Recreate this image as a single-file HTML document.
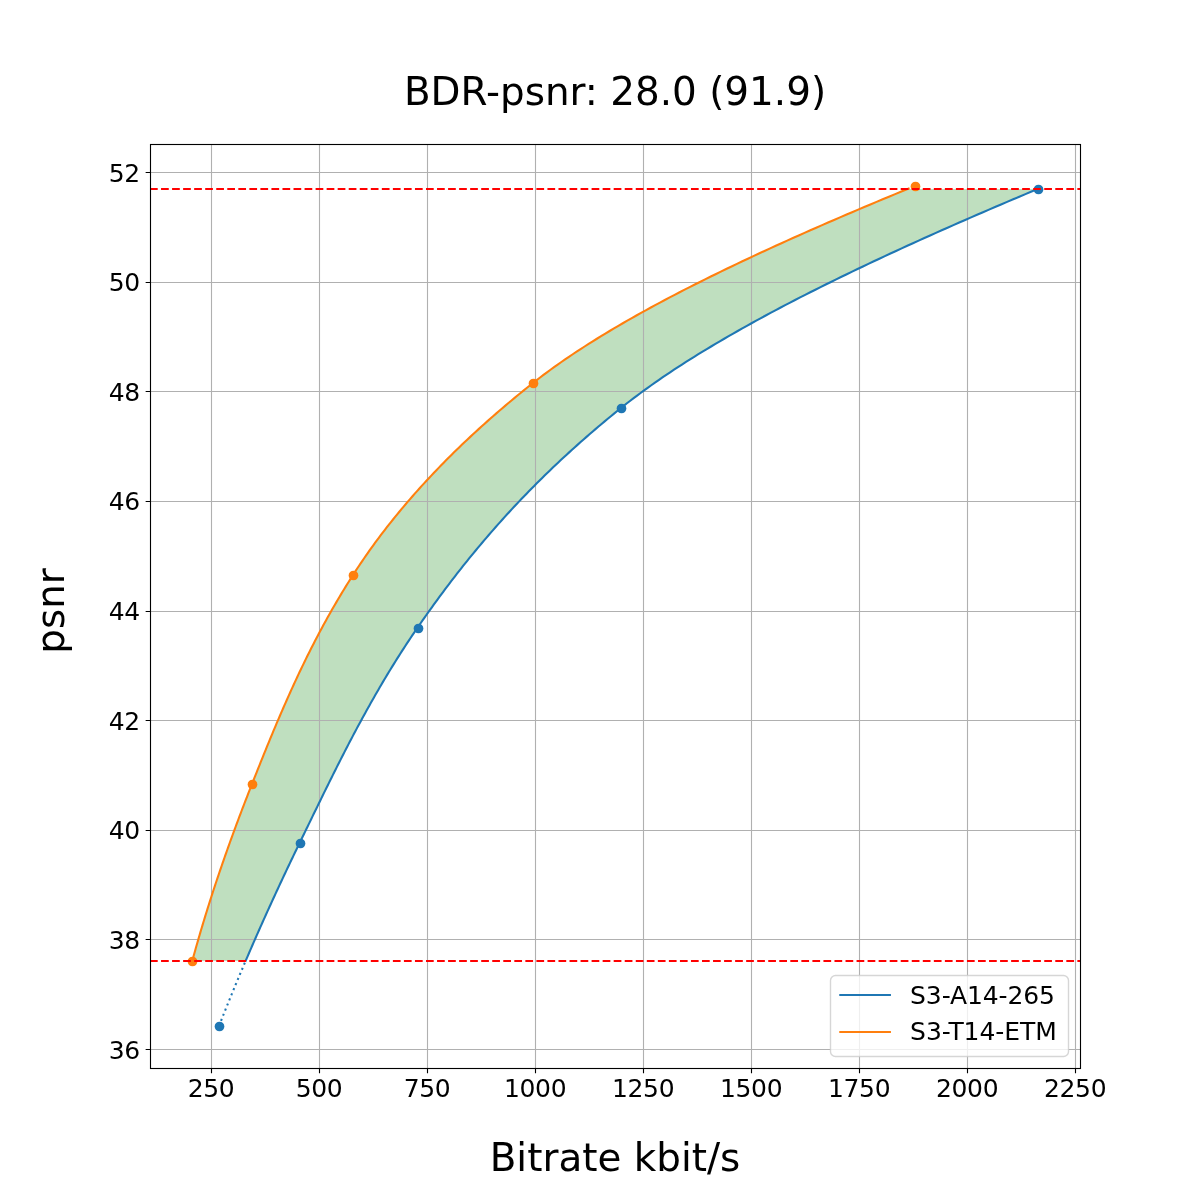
<!DOCTYPE html>
<html lang="en"><head><meta charset="utf-8"><title>BDR-psnr</title>
<style>html,body{margin:0;padding:0;background:#fff}body{width:1200px;height:1200px;overflow:hidden}svg{display:block}</style>
</head><body>
<svg width="1200" height="1200" viewBox="0 0 1200 1200">
<rect width="1200" height="1200" fill="#ffffff"/>
<defs><clipPath id="ax"><rect x="150" y="144" width="930" height="924"/></clipPath></defs>
<g clip-path="url(#ax)">
<path d="M192.27,961.00 L192.97,958.42 L193.68,955.84 L194.39,953.25 L195.11,950.67 L195.83,948.09 L196.56,945.51 L197.30,942.93 L198.04,940.34 L198.79,937.76 L199.54,935.18 L200.29,932.60 L201.06,930.02 L201.82,927.43 L202.60,924.85 L203.38,922.27 L204.16,919.69 L204.95,917.11 L205.74,914.53 L206.54,911.94 L207.35,909.36 L208.15,906.78 L208.97,904.20 L209.79,901.62 L210.61,899.03 L211.44,896.45 L212.28,893.87 L213.12,891.29 L213.96,888.71 L214.81,886.12 L215.67,883.54 L216.52,880.96 L217.39,878.38 L218.26,875.80 L219.13,873.21 L220.01,870.63 L220.89,868.05 L221.78,865.47 L222.67,862.89 L223.57,860.30 L224.47,857.72 L225.37,855.14 L226.28,852.56 L227.20,849.98 L228.12,847.39 L229.04,844.81 L229.97,842.23 L230.90,839.65 L231.84,837.07 L232.78,834.48 L233.72,831.90 L234.67,829.32 L235.63,826.74 L236.59,824.16 L237.55,821.58 L238.51,818.99 L239.48,816.41 L240.46,813.83 L241.44,811.25 L242.42,808.67 L243.41,806.08 L244.40,803.50 L245.39,800.92 L246.39,798.34 L247.39,795.76 L248.40,793.17 L249.41,790.59 L250.42,788.01 L251.44,785.43 L252.46,782.85 L253.48,780.26 L254.50,777.68 L255.53,775.10 L256.55,772.52 L257.58,769.94 L258.61,767.35 L259.65,764.77 L260.68,762.19 L261.72,759.61 L262.76,757.03 L263.81,754.44 L264.85,751.86 L265.90,749.28 L266.95,746.70 L268.01,744.12 L269.07,741.54 L270.14,738.95 L271.20,736.37 L272.28,733.79 L273.35,731.21 L274.44,728.63 L275.52,726.04 L276.61,723.46 L277.71,720.88 L278.81,718.30 L279.92,715.72 L281.03,713.13 L282.15,710.55 L283.27,707.97 L284.40,705.39 L285.54,702.81 L286.68,700.22 L287.83,697.64 L288.98,695.06 L290.14,692.48 L291.31,689.90 L292.49,687.31 L293.67,684.73 L294.86,682.15 L296.06,679.57 L297.27,676.99 L298.48,674.40 L299.71,671.82 L300.94,669.24 L302.18,666.66 L303.42,664.08 L304.68,661.49 L305.95,658.91 L307.22,656.33 L308.51,653.75 L309.80,651.17 L311.10,648.59 L312.42,646.00 L313.74,643.42 L315.07,640.84 L316.42,638.26 L317.77,635.68 L319.14,633.09 L320.51,630.51 L321.90,627.93 L323.29,625.35 L324.70,622.77 L326.12,620.18 L327.55,617.60 L329.00,615.02 L330.45,612.44 L331.92,609.86 L333.40,607.27 L334.89,604.69 L336.40,602.11 L337.92,599.53 L339.45,596.95 L340.99,594.36 L342.55,591.78 L344.12,589.20 L345.70,586.62 L347.30,584.04 L348.91,581.45 L350.54,578.87 L352.17,576.29 L353.83,573.71 L355.50,571.13 L357.19,568.55 L358.90,565.96 L360.63,563.38 L362.38,560.80 L364.15,558.22 L365.94,555.64 L367.74,553.05 L369.57,550.47 L371.41,547.89 L373.28,545.31 L375.16,542.73 L377.07,540.14 L378.99,537.56 L380.93,534.98 L382.90,532.40 L384.88,529.82 L386.88,527.23 L388.90,524.65 L390.95,522.07 L393.01,519.49 L395.10,516.91 L397.20,514.32 L399.33,511.74 L401.47,509.16 L403.64,506.58 L405.82,504.00 L408.03,501.41 L410.26,498.83 L412.51,496.25 L414.78,493.67 L417.07,491.09 L419.39,488.51 L421.72,485.92 L424.08,483.34 L426.45,480.76 L428.85,478.18 L431.27,475.60 L433.72,473.01 L436.18,470.43 L438.67,467.85 L441.17,465.27 L443.70,462.69 L446.25,460.10 L448.83,457.52 L451.42,454.94 L454.04,452.36 L456.68,449.78 L459.35,447.19 L462.03,444.61 L464.74,442.03 L467.47,439.45 L470.22,436.87 L473.00,434.28 L475.80,431.70 L478.62,429.12 L481.47,426.54 L484.34,423.96 L487.23,421.37 L490.14,418.79 L493.08,416.21 L496.04,413.63 L499.03,411.05 L502.04,408.46 L505.07,405.88 L508.13,403.30 L511.21,400.72 L514.31,398.14 L517.44,395.56 L520.60,392.97 L523.77,390.39 L526.97,387.81 L530.20,385.23 L533.45,382.65 L536.74,380.06 L540.09,377.48 L543.50,374.90 L546.97,372.32 L550.49,369.74 L554.06,367.15 L557.69,364.57 L561.37,361.99 L565.11,359.41 L568.90,356.83 L572.74,354.24 L576.64,351.66 L580.58,349.08 L584.58,346.50 L588.63,343.92 L592.73,341.33 L596.88,338.75 L601.08,336.17 L605.33,333.59 L609.62,331.01 L613.97,328.42 L618.36,325.84 L622.80,323.26 L627.29,320.68 L631.82,318.10 L636.40,315.52 L641.03,312.93 L645.70,310.35 L650.41,307.77 L655.17,305.19 L659.97,302.61 L664.82,300.02 L669.71,297.44 L674.64,294.86 L679.61,292.28 L684.62,289.70 L689.68,287.11 L694.77,284.53 L699.91,281.95 L705.09,279.37 L710.30,276.79 L715.55,274.20 L720.84,271.62 L726.17,269.04 L731.54,266.46 L736.94,263.88 L742.38,261.29 L747.86,258.71 L753.37,256.13 L758.92,253.55 L764.50,250.97 L770.12,248.38 L775.77,245.80 L781.45,243.22 L787.16,240.64 L792.91,238.06 L798.69,235.47 L804.50,232.89 L810.34,230.31 L816.22,227.73 L822.12,225.15 L828.05,222.57 L834.02,219.98 L840.01,217.40 L846.03,214.82 L852.07,212.24 L858.15,209.66 L864.25,207.07 L870.38,204.49 L876.53,201.91 L882.71,199.33 L888.92,196.75 L895.15,194.16 L901.40,191.58 L907.68,189.00 L1037.73,189.00 L1031.57,191.58 L1025.43,194.16 L1019.30,196.75 L1013.20,199.33 L1007.12,201.91 L1001.06,204.49 L995.02,207.07 L989.01,209.66 L983.01,212.24 L977.04,214.82 L971.09,217.40 L965.17,219.98 L959.27,222.57 L953.39,225.15 L947.54,227.73 L941.71,230.31 L935.91,232.89 L930.13,235.47 L924.38,238.06 L918.65,240.64 L912.95,243.22 L907.28,245.80 L901.64,248.38 L896.02,250.97 L890.44,253.55 L884.88,256.13 L879.35,258.71 L873.85,261.29 L868.37,263.88 L862.93,266.46 L857.52,269.04 L852.14,271.62 L846.79,274.20 L841.47,276.79 L836.19,279.37 L830.93,281.95 L825.71,284.53 L820.52,287.11 L815.37,289.70 L810.24,292.28 L805.16,294.86 L800.10,297.44 L795.08,300.02 L790.10,302.61 L785.15,305.19 L780.24,307.77 L775.36,310.35 L770.52,312.93 L765.72,315.52 L760.95,318.10 L756.22,320.68 L751.53,323.26 L746.88,325.84 L742.27,328.42 L737.69,331.01 L733.16,333.59 L728.66,336.17 L724.21,338.75 L719.79,341.33 L715.42,343.92 L711.09,346.50 L706.79,349.08 L702.55,351.66 L698.34,354.24 L694.17,356.83 L690.05,359.41 L685.98,361.99 L681.94,364.57 L677.95,367.15 L674.01,369.74 L670.11,372.32 L666.25,374.90 L662.44,377.48 L658.68,380.06 L654.96,382.65 L651.29,385.23 L647.67,387.81 L644.09,390.39 L640.57,392.97 L637.09,395.56 L633.65,398.14 L630.27,400.72 L626.94,403.30 L623.66,405.88 L620.42,408.46 L617.22,411.05 L614.04,413.63 L610.89,416.21 L607.76,418.79 L604.66,421.37 L601.57,423.96 L598.51,426.54 L595.48,429.12 L592.47,431.70 L589.48,434.28 L586.51,436.87 L583.56,439.45 L580.64,442.03 L577.74,444.61 L574.86,447.19 L572.01,449.78 L569.17,452.36 L566.36,454.94 L563.56,457.52 L560.79,460.10 L558.04,462.69 L555.31,465.27 L552.60,467.85 L549.91,470.43 L547.24,473.01 L544.59,475.60 L541.96,478.18 L539.35,480.76 L536.76,483.34 L534.19,485.92 L531.64,488.51 L529.11,491.09 L526.59,493.67 L524.10,496.25 L521.62,498.83 L519.16,501.41 L516.72,504.00 L514.29,506.58 L511.89,509.16 L509.50,511.74 L507.13,514.32 L504.78,516.91 L502.44,519.49 L500.12,522.07 L497.82,524.65 L495.53,527.23 L493.26,529.82 L491.01,532.40 L488.77,534.98 L486.55,537.56 L484.34,540.14 L482.15,542.73 L479.97,545.31 L477.81,547.89 L475.67,550.47 L473.53,553.05 L471.42,555.64 L469.32,558.22 L467.23,560.80 L465.15,563.38 L463.09,565.96 L461.05,568.55 L459.01,571.13 L456.99,573.71 L454.99,576.29 L452.99,578.87 L451.01,581.45 L449.05,584.04 L447.09,586.62 L445.15,589.20 L443.22,591.78 L441.30,594.36 L439.39,596.95 L437.49,599.53 L435.61,602.11 L433.74,604.69 L431.88,607.27 L430.02,609.86 L428.18,612.44 L426.35,615.02 L424.53,617.60 L422.73,620.18 L420.93,622.77 L419.14,625.35 L417.36,627.93 L415.59,630.51 L413.84,633.09 L412.09,635.68 L410.37,638.26 L408.65,640.84 L406.95,643.42 L405.26,646.00 L403.58,648.59 L401.92,651.17 L400.26,653.75 L398.62,656.33 L396.99,658.91 L395.37,661.49 L393.76,664.08 L392.17,666.66 L390.58,669.24 L389.01,671.82 L387.44,674.40 L385.89,676.99 L384.35,679.57 L382.81,682.15 L381.29,684.73 L379.78,687.31 L378.27,689.90 L376.78,692.48 L375.29,695.06 L373.81,697.64 L372.35,700.22 L370.89,702.81 L369.44,705.39 L367.99,707.97 L366.56,710.55 L365.13,713.13 L363.71,715.72 L362.30,718.30 L360.90,720.88 L359.50,723.46 L358.11,726.04 L356.73,728.63 L355.35,731.21 L353.98,733.79 L352.62,736.37 L351.26,738.95 L349.91,741.54 L348.56,744.12 L347.22,746.70 L345.89,749.28 L344.56,751.86 L343.23,754.44 L341.92,757.03 L340.60,759.61 L339.29,762.19 L337.99,764.77 L336.68,767.35 L335.39,769.94 L334.09,772.52 L332.80,775.10 L331.52,777.68 L330.23,780.26 L328.95,782.85 L327.68,785.43 L326.40,788.01 L325.13,790.59 L323.86,793.17 L322.60,795.76 L321.33,798.34 L320.07,800.92 L318.81,803.50 L317.55,806.08 L316.29,808.67 L315.03,811.25 L313.78,813.83 L312.52,816.41 L311.27,818.99 L310.01,821.58 L308.76,824.16 L307.51,826.74 L306.25,829.32 L305.00,831.90 L303.74,834.48 L302.49,837.07 L301.23,839.65 L299.98,842.23 L298.72,844.81 L297.47,847.39 L296.22,849.98 L294.97,852.56 L293.73,855.14 L292.49,857.72 L291.25,860.30 L290.02,862.89 L288.79,865.47 L287.56,868.05 L286.33,870.63 L285.11,873.21 L283.90,875.80 L282.68,878.38 L281.47,880.96 L280.26,883.54 L279.06,886.12 L277.86,888.71 L276.66,891.29 L275.46,893.87 L274.27,896.45 L273.09,899.03 L271.90,901.62 L270.72,904.20 L269.54,906.78 L268.37,909.36 L267.20,911.94 L266.03,914.53 L264.87,917.11 L263.71,919.69 L262.55,922.27 L261.39,924.85 L260.24,927.43 L259.10,930.02 L257.95,932.60 L256.81,935.18 L255.68,937.76 L254.54,940.34 L253.41,942.93 L252.29,945.51 L251.17,948.09 L250.05,950.67 L248.93,953.25 L247.82,955.84 L246.71,958.42 L245.61,961.00Z" fill="#008000" fill-opacity="0.25" stroke="none"/>
<path d="M211.5,144V1068M319.5,144V1068M427.5,144V1068M535.5,144V1068M643.5,144V1068M751.5,144V1068M859.5,144V1068M967.5,144V1068M1075.5,144V1068M150,1049.5H1080M150,939.5H1080M150,830.5H1080M150,720.5H1080M150,611.5H1080M150,501.5H1080M150,391.5H1080M150,282.5H1080M150,172.5H1080" stroke="#b0b0b0" stroke-width="1.11" fill="none"/>
<circle cx="219.5" cy="1026.5" r="4.86" fill="#1f77b4"/>
<circle cx="300.5" cy="843.5" r="4.86" fill="#1f77b4"/>
<circle cx="418.5" cy="628.5" r="4.86" fill="#1f77b4"/>
<circle cx="621.5" cy="408.5" r="4.86" fill="#1f77b4"/>
<circle cx="1038.5" cy="189.5" r="4.86" fill="#1f77b4"/>
<path d="M219.00,1026.00 L220.34,1022.58 L221.69,1019.16 L223.04,1015.74 L224.41,1012.32 L225.77,1008.89 L227.15,1005.47 L228.53,1002.05 L229.92,998.63 L231.31,995.21 L232.71,991.79 L234.12,988.37 L235.53,984.95 L236.95,981.53 L238.38,978.11 L239.81,974.68 L241.25,971.26 L242.70,967.84 L244.15,964.42 L245.61,961.00" stroke="#1f77b4" stroke-width="2.08" stroke-dasharray="2.08 3.44" fill="none"/>
<path d="M245.61,961.00 L246.71,958.42 L247.82,955.84 L248.93,953.25 L250.05,950.67 L251.17,948.09 L252.29,945.51 L253.41,942.93 L254.54,940.34 L255.68,937.76 L256.81,935.18 L257.95,932.60 L259.10,930.02 L260.24,927.43 L261.39,924.85 L262.55,922.27 L263.71,919.69 L264.87,917.11 L266.03,914.53 L267.20,911.94 L268.37,909.36 L269.54,906.78 L270.72,904.20 L271.90,901.62 L273.09,899.03 L274.27,896.45 L275.46,893.87 L276.66,891.29 L277.86,888.71 L279.06,886.12 L280.26,883.54 L281.47,880.96 L282.68,878.38 L283.90,875.80 L285.11,873.21 L286.33,870.63 L287.56,868.05 L288.79,865.47 L290.02,862.89 L291.25,860.30 L292.49,857.72 L293.73,855.14 L294.97,852.56 L296.22,849.98 L297.47,847.39 L298.72,844.81 L299.98,842.23 L301.23,839.65 L302.49,837.07 L303.74,834.48 L305.00,831.90 L306.25,829.32 L307.51,826.74 L308.76,824.16 L310.01,821.58 L311.27,818.99 L312.52,816.41 L313.78,813.83 L315.03,811.25 L316.29,808.67 L317.55,806.08 L318.81,803.50 L320.07,800.92 L321.33,798.34 L322.60,795.76 L323.86,793.17 L325.13,790.59 L326.40,788.01 L327.68,785.43 L328.95,782.85 L330.23,780.26 L331.52,777.68 L332.80,775.10 L334.09,772.52 L335.39,769.94 L336.68,767.35 L337.99,764.77 L339.29,762.19 L340.60,759.61 L341.92,757.03 L343.23,754.44 L344.56,751.86 L345.89,749.28 L347.22,746.70 L348.56,744.12 L349.91,741.54 L351.26,738.95 L352.62,736.37 L353.98,733.79 L355.35,731.21 L356.73,728.63 L358.11,726.04 L359.50,723.46 L360.90,720.88 L362.30,718.30 L363.71,715.72 L365.13,713.13 L366.56,710.55 L367.99,707.97 L369.44,705.39 L370.89,702.81 L372.35,700.22 L373.81,697.64 L375.29,695.06 L376.78,692.48 L378.27,689.90 L379.78,687.31 L381.29,684.73 L382.81,682.15 L384.35,679.57 L385.89,676.99 L387.44,674.40 L389.01,671.82 L390.58,669.24 L392.17,666.66 L393.76,664.08 L395.37,661.49 L396.99,658.91 L398.62,656.33 L400.26,653.75 L401.92,651.17 L403.58,648.59 L405.26,646.00 L406.95,643.42 L408.65,640.84 L410.37,638.26 L412.09,635.68 L413.84,633.09 L415.59,630.51 L417.36,627.93 L419.14,625.35 L420.93,622.77 L422.73,620.18 L424.53,617.60 L426.35,615.02 L428.18,612.44 L430.02,609.86 L431.88,607.27 L433.74,604.69 L435.61,602.11 L437.49,599.53 L439.39,596.95 L441.30,594.36 L443.22,591.78 L445.15,589.20 L447.09,586.62 L449.05,584.04 L451.01,581.45 L452.99,578.87 L454.99,576.29 L456.99,573.71 L459.01,571.13 L461.05,568.55 L463.09,565.96 L465.15,563.38 L467.23,560.80 L469.32,558.22 L471.42,555.64 L473.53,553.05 L475.67,550.47 L477.81,547.89 L479.97,545.31 L482.15,542.73 L484.34,540.14 L486.55,537.56 L488.77,534.98 L491.01,532.40 L493.26,529.82 L495.53,527.23 L497.82,524.65 L500.12,522.07 L502.44,519.49 L504.78,516.91 L507.13,514.32 L509.50,511.74 L511.89,509.16 L514.29,506.58 L516.72,504.00 L519.16,501.41 L521.62,498.83 L524.10,496.25 L526.59,493.67 L529.11,491.09 L531.64,488.51 L534.19,485.92 L536.76,483.34 L539.35,480.76 L541.96,478.18 L544.59,475.60 L547.24,473.01 L549.91,470.43 L552.60,467.85 L555.31,465.27 L558.04,462.69 L560.79,460.10 L563.56,457.52 L566.36,454.94 L569.17,452.36 L572.01,449.78 L574.86,447.19 L577.74,444.61 L580.64,442.03 L583.56,439.45 L586.51,436.87 L589.48,434.28 L592.47,431.70 L595.48,429.12 L598.51,426.54 L601.57,423.96 L604.66,421.37 L607.76,418.79 L610.89,416.21 L614.04,413.63 L617.22,411.05 L620.42,408.46 L623.66,405.88 L626.94,403.30 L630.27,400.72 L633.65,398.14 L637.09,395.56 L640.57,392.97 L644.09,390.39 L647.67,387.81 L651.29,385.23 L654.96,382.65 L658.68,380.06 L662.44,377.48 L666.25,374.90 L670.11,372.32 L674.01,369.74 L677.95,367.15 L681.94,364.57 L685.98,361.99 L690.05,359.41 L694.17,356.83 L698.34,354.24 L702.55,351.66 L706.79,349.08 L711.09,346.50 L715.42,343.92 L719.79,341.33 L724.21,338.75 L728.66,336.17 L733.16,333.59 L737.69,331.01 L742.27,328.42 L746.88,325.84 L751.53,323.26 L756.22,320.68 L760.95,318.10 L765.72,315.52 L770.52,312.93 L775.36,310.35 L780.24,307.77 L785.15,305.19 L790.10,302.61 L795.08,300.02 L800.10,297.44 L805.16,294.86 L810.24,292.28 L815.37,289.70 L820.52,287.11 L825.71,284.53 L830.93,281.95 L836.19,279.37 L841.47,276.79 L846.79,274.20 L852.14,271.62 L857.52,269.04 L862.93,266.46 L868.37,263.88 L873.85,261.29 L879.35,258.71 L884.88,256.13 L890.44,253.55 L896.02,250.97 L901.64,248.38 L907.28,245.80 L912.95,243.22 L918.65,240.64 L924.38,238.06 L930.13,235.47 L935.91,232.89 L941.71,230.31 L947.54,227.73 L953.39,225.15 L959.27,222.57 L965.17,219.98 L971.09,217.40 L977.04,214.82 L983.01,212.24 L989.01,209.66 L995.02,207.07 L1001.06,204.49 L1007.12,201.91 L1013.20,199.33 L1019.30,196.75 L1025.43,194.16 L1031.57,191.58 L1037.73,189.00" stroke="#1f77b4" stroke-width="2.08" fill="none" stroke-linecap="square" stroke-linejoin="round"/>
<circle cx="192.5" cy="961.5" r="4.86" fill="#ff7f0e"/>
<circle cx="252.5" cy="784.5" r="4.86" fill="#ff7f0e"/>
<circle cx="353.5" cy="575.5" r="4.86" fill="#ff7f0e"/>
<circle cx="533.5" cy="383.5" r="4.86" fill="#ff7f0e"/>
<circle cx="915.5" cy="186.5" r="4.86" fill="#ff7f0e"/>
<path d="M907.68,189.00 L909.50,188.25 L911.33,187.50 L913.17,186.75 L915.00,186.00" stroke="#ff7f0e" stroke-width="2.08" stroke-dasharray="2.08 3.44" fill="none"/>
<path d="M192.27,961.00 L192.97,958.42 L193.68,955.84 L194.39,953.25 L195.11,950.67 L195.83,948.09 L196.56,945.51 L197.30,942.93 L198.04,940.34 L198.79,937.76 L199.54,935.18 L200.29,932.60 L201.06,930.02 L201.82,927.43 L202.60,924.85 L203.38,922.27 L204.16,919.69 L204.95,917.11 L205.74,914.53 L206.54,911.94 L207.35,909.36 L208.15,906.78 L208.97,904.20 L209.79,901.62 L210.61,899.03 L211.44,896.45 L212.28,893.87 L213.12,891.29 L213.96,888.71 L214.81,886.12 L215.67,883.54 L216.52,880.96 L217.39,878.38 L218.26,875.80 L219.13,873.21 L220.01,870.63 L220.89,868.05 L221.78,865.47 L222.67,862.89 L223.57,860.30 L224.47,857.72 L225.37,855.14 L226.28,852.56 L227.20,849.98 L228.12,847.39 L229.04,844.81 L229.97,842.23 L230.90,839.65 L231.84,837.07 L232.78,834.48 L233.72,831.90 L234.67,829.32 L235.63,826.74 L236.59,824.16 L237.55,821.58 L238.51,818.99 L239.48,816.41 L240.46,813.83 L241.44,811.25 L242.42,808.67 L243.41,806.08 L244.40,803.50 L245.39,800.92 L246.39,798.34 L247.39,795.76 L248.40,793.17 L249.41,790.59 L250.42,788.01 L251.44,785.43 L252.46,782.85 L253.48,780.26 L254.50,777.68 L255.53,775.10 L256.55,772.52 L257.58,769.94 L258.61,767.35 L259.65,764.77 L260.68,762.19 L261.72,759.61 L262.76,757.03 L263.81,754.44 L264.85,751.86 L265.90,749.28 L266.95,746.70 L268.01,744.12 L269.07,741.54 L270.14,738.95 L271.20,736.37 L272.28,733.79 L273.35,731.21 L274.44,728.63 L275.52,726.04 L276.61,723.46 L277.71,720.88 L278.81,718.30 L279.92,715.72 L281.03,713.13 L282.15,710.55 L283.27,707.97 L284.40,705.39 L285.54,702.81 L286.68,700.22 L287.83,697.64 L288.98,695.06 L290.14,692.48 L291.31,689.90 L292.49,687.31 L293.67,684.73 L294.86,682.15 L296.06,679.57 L297.27,676.99 L298.48,674.40 L299.71,671.82 L300.94,669.24 L302.18,666.66 L303.42,664.08 L304.68,661.49 L305.95,658.91 L307.22,656.33 L308.51,653.75 L309.80,651.17 L311.10,648.59 L312.42,646.00 L313.74,643.42 L315.07,640.84 L316.42,638.26 L317.77,635.68 L319.14,633.09 L320.51,630.51 L321.90,627.93 L323.29,625.35 L324.70,622.77 L326.12,620.18 L327.55,617.60 L329.00,615.02 L330.45,612.44 L331.92,609.86 L333.40,607.27 L334.89,604.69 L336.40,602.11 L337.92,599.53 L339.45,596.95 L340.99,594.36 L342.55,591.78 L344.12,589.20 L345.70,586.62 L347.30,584.04 L348.91,581.45 L350.54,578.87 L352.17,576.29 L353.83,573.71 L355.50,571.13 L357.19,568.55 L358.90,565.96 L360.63,563.38 L362.38,560.80 L364.15,558.22 L365.94,555.64 L367.74,553.05 L369.57,550.47 L371.41,547.89 L373.28,545.31 L375.16,542.73 L377.07,540.14 L378.99,537.56 L380.93,534.98 L382.90,532.40 L384.88,529.82 L386.88,527.23 L388.90,524.65 L390.95,522.07 L393.01,519.49 L395.10,516.91 L397.20,514.32 L399.33,511.74 L401.47,509.16 L403.64,506.58 L405.82,504.00 L408.03,501.41 L410.26,498.83 L412.51,496.25 L414.78,493.67 L417.07,491.09 L419.39,488.51 L421.72,485.92 L424.08,483.34 L426.45,480.76 L428.85,478.18 L431.27,475.60 L433.72,473.01 L436.18,470.43 L438.67,467.85 L441.17,465.27 L443.70,462.69 L446.25,460.10 L448.83,457.52 L451.42,454.94 L454.04,452.36 L456.68,449.78 L459.35,447.19 L462.03,444.61 L464.74,442.03 L467.47,439.45 L470.22,436.87 L473.00,434.28 L475.80,431.70 L478.62,429.12 L481.47,426.54 L484.34,423.96 L487.23,421.37 L490.14,418.79 L493.08,416.21 L496.04,413.63 L499.03,411.05 L502.04,408.46 L505.07,405.88 L508.13,403.30 L511.21,400.72 L514.31,398.14 L517.44,395.56 L520.60,392.97 L523.77,390.39 L526.97,387.81 L530.20,385.23 L533.45,382.65 L536.74,380.06 L540.09,377.48 L543.50,374.90 L546.97,372.32 L550.49,369.74 L554.06,367.15 L557.69,364.57 L561.37,361.99 L565.11,359.41 L568.90,356.83 L572.74,354.24 L576.64,351.66 L580.58,349.08 L584.58,346.50 L588.63,343.92 L592.73,341.33 L596.88,338.75 L601.08,336.17 L605.33,333.59 L609.62,331.01 L613.97,328.42 L618.36,325.84 L622.80,323.26 L627.29,320.68 L631.82,318.10 L636.40,315.52 L641.03,312.93 L645.70,310.35 L650.41,307.77 L655.17,305.19 L659.97,302.61 L664.82,300.02 L669.71,297.44 L674.64,294.86 L679.61,292.28 L684.62,289.70 L689.68,287.11 L694.77,284.53 L699.91,281.95 L705.09,279.37 L710.30,276.79 L715.55,274.20 L720.84,271.62 L726.17,269.04 L731.54,266.46 L736.94,263.88 L742.38,261.29 L747.86,258.71 L753.37,256.13 L758.92,253.55 L764.50,250.97 L770.12,248.38 L775.77,245.80 L781.45,243.22 L787.16,240.64 L792.91,238.06 L798.69,235.47 L804.50,232.89 L810.34,230.31 L816.22,227.73 L822.12,225.15 L828.05,222.57 L834.02,219.98 L840.01,217.40 L846.03,214.82 L852.07,212.24 L858.15,209.66 L864.25,207.07 L870.38,204.49 L876.53,201.91 L882.71,199.33 L888.92,196.75 L895.15,194.16 L901.40,191.58 L907.68,189.00" stroke="#ff7f0e" stroke-width="2.08" fill="none" stroke-linecap="square" stroke-linejoin="round"/>
<path d="M150,961.0H1080" stroke="#ff0000" stroke-width="2.08" stroke-dasharray="7.71 3.33" fill="none"/>
<path d="M150,189.0H1080" stroke="#ff0000" stroke-width="2.08" stroke-dasharray="7.71 3.33" fill="none"/>
</g>
<path d="M211.5,1068.5v4.86M319.5,1068.5v4.86M427.5,1068.5v4.86M535.5,1068.5v4.86M643.5,1068.5v4.86M751.5,1068.5v4.86M859.5,1068.5v4.86M967.5,1068.5v4.86M1075.5,1068.5v4.86M150.5,1049.5h-4.86M150.5,939.5h-4.86M150.5,830.5h-4.86M150.5,720.5h-4.86M150.5,611.5h-4.86M150.5,501.5h-4.86M150.5,391.5h-4.86M150.5,282.5h-4.86M150.5,172.5h-4.86" stroke="#000" stroke-width="1.11" fill="none"/>
<rect x="150.5" y="144.5" width="930.0" height="924.0" fill="none" stroke="#000" stroke-width="1.11"/>
<g font-family="DejaVu Sans, Liberation Sans, sans-serif" fill="#000">
<g font-size="25px" text-anchor="middle" letter-spacing="-0.35">
<text x="211.10" y="1097">250</text>
<text x="319.10" y="1097">500</text>
<text x="427.10" y="1097">750</text>
<text x="535.10" y="1097">1000</text>
<text x="643.10" y="1097">1250</text>
<text x="751.10" y="1097">1500</text>
<text x="859.10" y="1097">1750</text>
<text x="967.10" y="1097">2000</text>
<text x="1075.10" y="1097">2250</text>
</g>
<g font-size="25px" text-anchor="end" letter-spacing="-0.4">
<text x="139.75" y="1059">36</text>
<text x="139.75" y="949">38</text>
<text x="139.75" y="839">40</text>
<text x="139.75" y="730">42</text>
<text x="139.75" y="620">44</text>
<text x="139.75" y="510">46</text>
<text x="139.75" y="401">48</text>
<text x="139.75" y="291">50</text>
<text x="139.75" y="182">52</text>
</g>
<text x="615" y="104.6" font-size="38.89px" text-anchor="middle">BDR-psnr: 28.0 (91.9)</text>
<text x="615" y="1170.7" font-size="38.89px" text-anchor="middle">Bitrate kbit/s</text>
<text transform="translate(63.8,611) rotate(-90)" font-size="38.89px" text-anchor="middle">psnr</text>
<rect x="830.5" y="975.5" width="238" height="81" rx="5" ry="5" fill="#ffffff" fill-opacity="0.8" stroke="#cccccc" stroke-opacity="0.8" stroke-width="1.39"/>
<path d="M840.3,995h49.6" stroke="#1f77b4" stroke-width="2.08" stroke-linecap="square"/>
<path d="M840.3,1032h49.6" stroke="#ff7f0e" stroke-width="2.08" stroke-linecap="square"/>
<text x="910.1" y="1003.7" font-size="25px" letter-spacing="-0.12">S3-A14-265</text>
<text x="910.1" y="1040" font-size="25px" letter-spacing="-0.07">S3-T14-ETM</text>
</g>
</svg>
</body></html>
